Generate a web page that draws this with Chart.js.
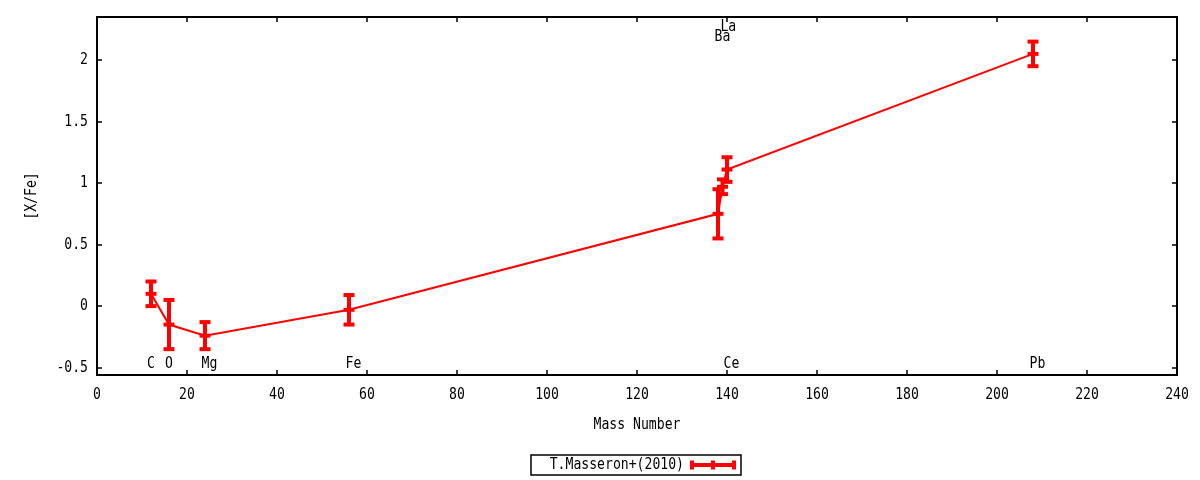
<!DOCTYPE html>
<html>
<head>
<meta charset="utf-8">
<script src="https://cdn.jsdelivr.net/npm/chart.js@4"></script>
<style>
	html, body { margin: 0; padding: 0; background: #fff; }
	#wrap { width: 1200px; height: 480px; }
</style>
</head>
<body>
<div id="wrap"><canvas id="plot" width="1200" height="480"></canvas></div>
<script>
// Data
const massNumber = [12, 16, 24, 56, 138, 139, 140, 208];
const xFe = [0.10, -0.15, -0.24, -0.03, 0.75, 0.97, 1.11, 2.05];
const xFeErr = [0.10, 0.20, 0.11, 0.12, 0.20, 0.06, 0.10, 0.10];

// Element labels (centre in data coordinates)
const elementNames = ['C', 'O', 'Mg', 'Fe', 'Ba', 'La', 'Ce', 'Pb'];
const elementX = [12, 16, 25, 57, 139, 140.3, 141, 209];
const elementY = [-0.47, -0.47, -0.47, -0.47, 2.19, 2.27, -0.47, -0.47];

const xTicks = [0, 20, 40, 60, 80, 100, 120, 140, 160, 180, 200, 220, 240];
const yTicks = [-0.5, 0, 0.5, 1, 1.5, 2];

const seriesLabel = 'T.Masseron+(2010)';
const RED = '#ff0000';
const FONT = "'DejaVu Sans Mono', monospace";

const points = massNumber.map((m, i) => ({ x: m, y: xFe[i] }));

// gnuplot's narrow tall lettering: squeeze a monospace font sideways
function label(ctx, text, x, y, align, angle) {
	ctx.save();
	ctx.translate(x, y);
	if (angle) ctx.rotate(angle);
	ctx.scale(0.82, 1);
	ctx.font = '16px ' + FONT;
	ctx.fillStyle = '#000';
	ctx.textAlign = align || 'center';
	ctx.textBaseline = 'middle';
	ctx.fillText(text, 0, 0);
	ctx.restore();
}

// draws frame, inward ticks, tick labels, error bars, labels, titles and legend
const gnuplotLook = {
	id: 'gnuplotLook',
	afterDatasetsDraw(chart) {
		const ctx = chart.ctx;
		const area = chart.chartArea;
		const xs = chart.scales.x;
		const ys = chart.scales.y;
		ctx.save();

		// error bars
		ctx.strokeStyle = RED;
		ctx.lineCap = 'butt';
		massNumber.forEach((m, i) => {
			const px = xs.getPixelForValue(m);
			const pTop = ys.getPixelForValue(xFe[i] + xFeErr[i]);
			const pBot = ys.getPixelForValue(xFe[i] - xFeErr[i]);
			const pMid = ys.getPixelForValue(xFe[i]);
			ctx.lineWidth = 4;
			ctx.beginPath();
			ctx.moveTo(px, pTop);
			ctx.lineTo(px, pBot);
			ctx.stroke();
			[pTop, pBot, pMid].forEach(py => {
				ctx.beginPath();
				ctx.moveTo(px - 5.5, py);
				ctx.lineTo(px + 5.5, py);
				ctx.stroke();
			});
		});

		// frame
		ctx.strokeStyle = '#000';
		ctx.lineWidth = 2;
		ctx.strokeRect(area.left, area.top, area.right - area.left, area.bottom - area.top);

		// inward ticks on all four sides
		ctx.lineWidth = 1.5;
		ctx.beginPath();
		xTicks.forEach(v => {
			const px = Math.round(xs.getPixelForValue(v));
			ctx.moveTo(px, area.bottom);
			ctx.lineTo(px, area.bottom - 5);
			ctx.moveTo(px, area.top);
			ctx.lineTo(px, area.top + 5);
		});
		yTicks.forEach(v => {
			const py = Math.round(ys.getPixelForValue(v));
			ctx.moveTo(area.left, py);
			ctx.lineTo(area.left + 5, py);
			ctx.moveTo(area.right, py);
			ctx.lineTo(area.right - 5, py);
		});
		ctx.stroke();

		// tick labels
		xTicks.forEach(v => label(ctx, String(v), xs.getPixelForValue(v), area.bottom + 20));
		yTicks.forEach(v => label(ctx, String(v), area.left - 9, ys.getPixelForValue(v), 'right'));

		// element labels
		elementNames.forEach((name, i) => {
			label(ctx, name, xs.getPixelForValue(elementX[i]), ys.getPixelForValue(elementY[i]));
		});

		// axis titles
		label(ctx, 'Mass Number', (area.left + area.right) / 2, 425);
		label(ctx, '[X/Fe]', 32, (area.top + area.bottom) / 2, 'center', -Math.PI / 2);

		// legend
		ctx.strokeStyle = '#000';
		ctx.lineWidth = 1.5;
		ctx.strokeRect(531, 455, 210, 20);
		label(ctx, seriesLabel, 684, 465, 'right');
		ctx.strokeStyle = RED;
		ctx.lineWidth = 4;
		ctx.beginPath();
		ctx.moveTo(692, 465);
		ctx.lineTo(734, 465);
		[692, 713, 734].forEach(x => {
			ctx.moveTo(x, 460.5);
			ctx.lineTo(x, 469.5);
		});
		ctx.stroke();

		ctx.restore();
	}
};

new Chart(document.getElementById('plot').getContext('2d'), {
	type: 'scatter',
	data: {
		datasets: [
			{
				label: seriesLabel,
				data: points,
				showLine: true,
				borderColor: RED,
				backgroundColor: RED,
				borderWidth: 2,
				pointRadius: 0,
				tension: 0
			}
		]
	},
	options: {
		responsive: false,
		animation: false,
		devicePixelRatio: 1,
		layout: { padding: { left: 0, right: 23, top: 17, bottom: 0 } },
		plugins: {
			legend: { display: false },
			tooltip: { enabled: false }
		},
		scales: {
			x: {
				type: 'linear',
				min: 0,
				max: 240,
				grid: { display: false, drawTicks: false },
				border: { display: false },
				ticks: { display: false },
				afterFit: scale => { scale.height = 105; }
			},
			y: {
				type: 'linear',
				min: -0.56,
				max: 2.35,
				grid: { display: false, drawTicks: false },
				border: { display: false },
				ticks: { display: false },
				afterFit: scale => { scale.width = 97; }
			}
		}
	},
	plugins: [gnuplotLook]
});
</script>
</body>
</html>
